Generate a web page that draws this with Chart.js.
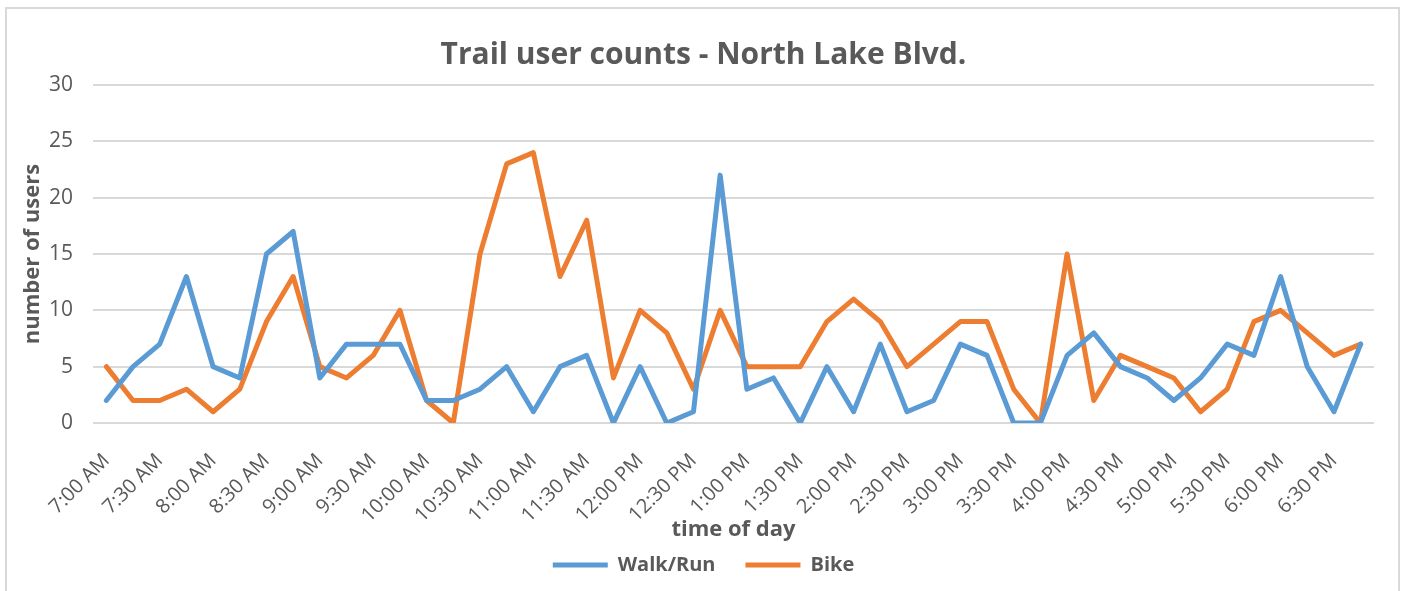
<!DOCTYPE html>
<html>
<head>
<meta charset="utf-8">
<title>Trail user counts - North Lake Blvd.</title>
<script src="https://cdn.jsdelivr.net/npm/chart.js@4"></script>
<style>
    html, body { margin: 0; padding: 0; background: #fff; overflow: hidden; }
    #frame {
        position: absolute; left: 5px; top: 7px;
        width: 1391px; height: 600px;
        border: 2px solid #d9d9d9;
    }
    #wrap { position: absolute; left: 0; top: 0; width: 1407px; height: 591px; }
</style>
</head>
<body>
<div id="frame"></div>
<div id="wrap"><canvas id="trail-chart"></canvas></div>
<script>
// time slots every 15 minutes, only every second one gets a label
const timeSlots = [
    '7:00 AM', '7:15 AM', '7:30 AM', '7:45 AM', '8:00 AM', '8:15 AM', '8:30 AM', '8:45 AM',
    '9:00 AM', '9:15 AM', '9:30 AM', '9:45 AM', '10:00 AM', '10:15 AM', '10:30 AM', '10:45 AM',
    '11:00 AM', '11:15 AM', '11:30 AM', '11:45 AM', '12:00 PM', '12:15 PM', '12:30 PM', '12:45 PM',
    '1:00 PM', '1:15 PM', '1:30 PM', '1:45 PM', '2:00 PM', '2:15 PM', '2:30 PM', '2:45 PM',
    '3:00 PM', '3:15 PM', '3:30 PM', '3:45 PM', '4:00 PM', '4:15 PM', '4:30 PM', '4:45 PM',
    '5:00 PM', '5:15 PM', '5:30 PM', '5:45 PM', '6:00 PM', '6:15 PM', '6:30 PM', '6:45 PM'
];

const walkRun = [
    2, 5, 7, 13, 5, 4, 15, 17,
    4, 7, 7, 7, 2, 2, 3, 5,
    1, 5, 6, 0, 5, 0, 1, 22,
    3, 4, 0, 5, 1, 7, 1, 2,
    7, 6, 0, 0, 6, 8, 5, 4,
    2, 4, 7, 6, 13, 5, 1, 7
];

const bike = [
    5, 2, 2, 3, 1, 3, 9, 13,
    5, 4, 6, 10, 2, 0, 15, 23,
    24, 13, 18, 4, 10, 8, 3, 10,
    5, 5, 5, 9, 11, 9, 5, 7,
    9, 9, 3, 0, 15, 2, 6, 5,
    4, 1, 3, 9, 10, 8, 6, 7
];

const yTicks = [0, 5, 10, 15, 20, 25, 30];

const textColor = '#595959';
const gridColor = '#d9d9d9';
const fontFamily = '"Open Sans", "DejaVu Sans", sans-serif';

const ctx = document.getElementById('trail-chart').getContext('2d');

const trailChart = new Chart(ctx, {
    type: 'line',
    data: {
        labels: timeSlots,
        datasets: [{
            label: 'Walk/Run',
            data: walkRun,
            borderColor: '#5b9bd5',
            backgroundColor: '#5b9bd5',
            borderWidth: 5,
            borderJoinStyle: 'round',
            borderCapStyle: 'round',
            pointRadius: 0,
            tension: 0
        },
        {
            label: 'Bike',
            data: bike,
            borderColor: '#ed7d31',
            backgroundColor: '#ed7d31',
            borderWidth: 5,
            borderJoinStyle: 'round',
            borderCapStyle: 'round',
            pointRadius: 0,
            tension: 0
        }]
    },
    options: {
        responsive: true,
        maintainAspectRatio: false,
        animation: false,
        layout: {
            padding: { top: 0, left: 10, right: 10, bottom: 6 }
        },
        plugins: {
            title: {
                display: true,
                text: 'Trail user counts - North Lake Blvd.',
                color: textColor,
                font: { family: fontFamily, size: 30, weight: 'bold' },
                padding: { top: 37, bottom: 12 }
            },
            legend: {
                position: 'bottom',
                labels: {
                    usePointStyle: true,
                    pointStyle: 'line',
                    pointStyleWidth: 55,
                    color: textColor,
                    padding: 30,
                    font: { family: fontFamily, size: 20, weight: 'bold' }
                }
            },
            tooltip: { enabled: false }
        },
        scales: {
            x: {
                offset: true,
                grid: { display: false, drawTicks: false },
                border: { display: false },
                ticks: {
                    autoSkip: false,
                    maxRotation: 45,
                    minRotation: 45,
                    padding: 26,
                    color: textColor,
                    font: { family: fontFamily, size: 20 },
                    callback: function(value, index) {
                        return index % 2 === 0 ? timeSlots[index] : '';
                    }
                },
                title: {
                    display: true,
                    text: 'time of day',
                    color: textColor,
                    font: { family: fontFamily, size: 22, weight: 'bold' },
                    padding: { top: 0, bottom: -18 }
                },
                afterFit: function(scale) {
                    scale.height = 102;
                }
            },
            y: {
                min: 0,
                max: 30,
                grid: { color: gridColor, lineWidth: 2, drawTicks: false },
                border: { display: false },
                ticks: {
                    stepSize: 5,
                    padding: 20,
                    color: textColor,
                    font: { family: fontFamily, size: 21 },
                    callback: function(value) {
                        return yTicks.includes(value) ? value : '';
                    }
                },
                title: {
                    display: true,
                    text: 'number of users',
                    color: textColor,
                    font: { family: fontFamily, size: 22, weight: 'bold' },
                    padding: { top: 10, bottom: 0 }
                },
                afterFit: function(scale) {
                    scale.width = 83;
                }
            },
            // empty right-hand axis, only keeps the plot clear of the right frame
            yRight: {
                position: 'right',
                grid: { display: false, drawTicks: false },
                border: { display: false },
                ticks: { display: false },
                afterFit: function(scale) {
                    scale.width = 23;
                }
            }
        }
    }
});
</script>
</body>
</html>
